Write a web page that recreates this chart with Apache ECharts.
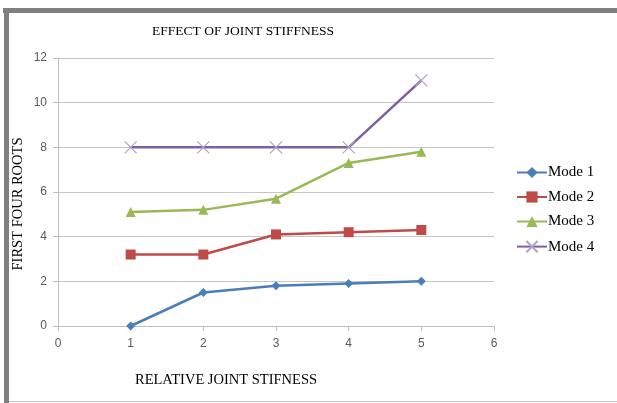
<!DOCTYPE html>
<html><head><meta charset="utf-8">
<script src="https://cdn.jsdelivr.net/npm/echarts@6/dist/echarts.min.js"></script>
<style>html,body{margin:0;padding:0;background:#fff}#c{width:617px;height:403px}</style>
</head><body><div id="c"></div>
<script>
const categories = [1, 2, 3, 4, 5];
const mode1 = [0, 1.5, 1.8, 1.9, 2.0];
const mode2 = [3.2, 3.2, 4.1, 4.2, 4.3];
const mode3 = [5.1, 5.2, 5.7, 7.3, 7.8];
const mode4 = [8, 8, 8, 8, 11];
const seriesNames = ['Mode 1', 'Mode 2', 'Mode 3', 'Mode 4'];
const colors = ['#4a7ebb', '#be4b48', '#98b954', '#7d60a0'];
const symbols = ['diamond', 'rect', 'triangle', 'path://M0,0L10,10M10,0L0,10'];
const symbolSizes = [9, 10, 10, 12];
const allData = [mode1, mode2, mode3, mode4];

const chart = echarts.init(document.getElementById('c'));
const serif = 'Liberation Serif';
const sans = 'Liberation Sans';
chart.setOption({
  animation: false,
  backgroundColor: '#fff',
  title: {
    text: 'EFFECT OF JOINT STIFFNESS',
    left: 238, top: 19, textAlign: 'center',
    textStyle: {fontFamily: serif, fontWeight: 'normal', fontSize: 13.5, color: '#000'}
  },
  legend: {
    orient: 'vertical', left: 516, top: 165, itemGap: 9.5, padding: 0,
    itemWidth: 30, itemHeight: 14,
    textStyle: {fontFamily: serif, fontSize: 15, color: '#000', padding: [0,0,0,-4]},
    data: seriesNames.map((n, i) => ({name: n}))
  },
  grid: {left: 58, right: 123, top: 58, bottom: 77},
  xAxis: {
    type: 'value', min: 0, max: 6, interval: 1,
    name: 'RELATIVE JOINT STIFNESS', nameLocation: 'middle', nameGap: 47,
    nameTextStyle: {fontFamily: serif, fontSize: 14.5, color: '#000', padding: [0, 0, 0, -100]},
    axisLine: {lineStyle: {color: '#bfbfbf'}},
    axisTick: {show: true, length: 5, lineStyle: {color: '#bfbfbf'}},
    axisLabel: {fontFamily: sans, fontSize: 12, color: '#595959', margin: 12},
    splitLine: {show: false}
  },
  yAxis: {
    type: 'value', min: 0, max: 12, interval: 2,
    axisLine: {show: true, lineStyle: {color: '#bfbfbf'}},
    axisTick: {show: true, length: 5, lineStyle: {color: '#bfbfbf'}},
    axisLabel: {fontFamily: sans, fontSize: 12, color: '#595959', margin: 11},
    splitLine: {show: true, lineStyle: {color: '#c6c6c6', width: 1}}
  },
  series: seriesNames.map((n, i) => ({
    name: n, type: 'line',
    data: categories.map((c, j) => [c, allData[i][j]]),
    symbol: symbols[i], symbolSize: symbolSizes[i],
    showAllSymbol: true,
    lineStyle: {color: colors[i], width: 2.5},
    itemStyle: i === 3 ? {color: 'none', borderColor: '#b3a2c7', borderWidth: 1.2} : {color: colors[i]},
    color: colors[i]
  })),
  graphic: [
    {type: 'rect', shape: {x: 3, y: 8, width: 614, height: 5}, style: {fill: '#808080'}, silent: true},
    {type: 'rect', shape: {x: 4, y: 8, width: 5, height: 395}, style: {fill: '#808080'}, silent: true},
    {type: 'line', shape: {x1: 9, y1: 401.5, x2: 617, y2: 401.5}, style: {stroke: '#c0c0c0', lineWidth: 1}, silent: true},
    {type: 'text', x: 18, y: 204, rotation: Math.PI / 2,
     style: {text: 'FIRST FOUR ROOTS', fontFamily: serif, fontSize: 14.5, fill: '#000', align: 'center', verticalAlign: 'middle'}, silent: true}
  ]
});
</script></body></html>
